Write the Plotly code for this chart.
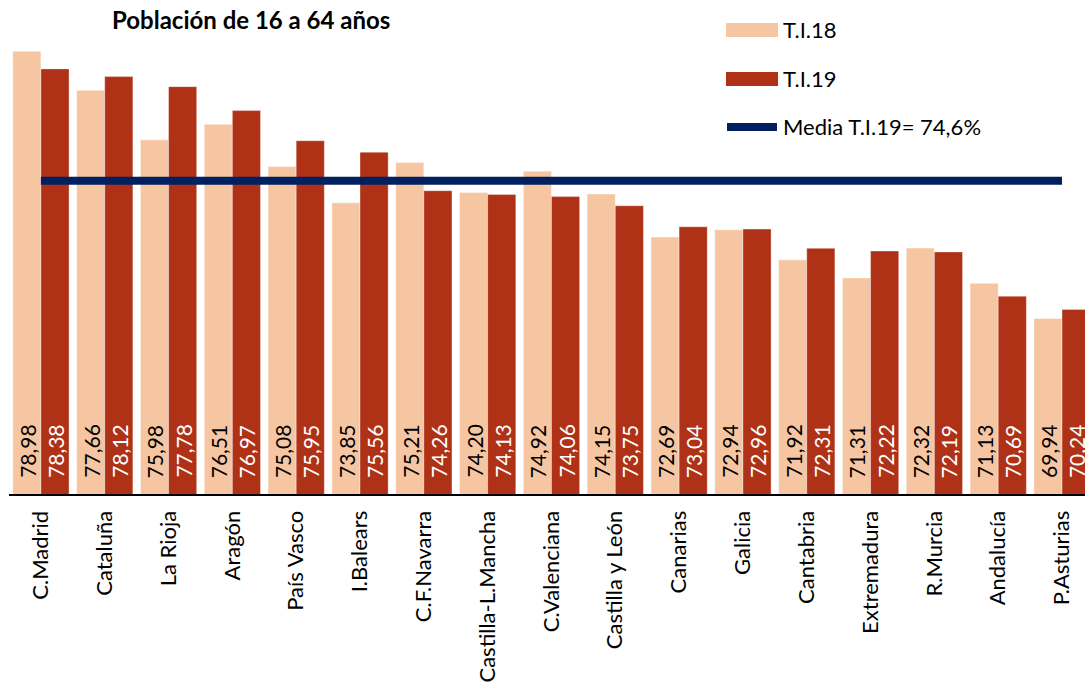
import plotly.graph_objects as go

categories = ["C.Madrid", "Cataluña", "La Rioja", "Aragón", "País Vasco", "I.Balears",
              "C.F.Navarra", "Castilla-L.Mancha", "C.Valenciana", "Castilla y León",
              "Canarias", "Galicia", "Cantabria", "Extremadura", "R.Murcia",
              "Andalucía", "P.Asturias"]
ti18 = [78.98, 77.66, 75.98, 76.51, 75.08, 73.85, 75.21, 74.20, 74.92, 74.15,
        72.69, 72.94, 71.92, 71.31, 72.32, 71.13, 69.94]
ti19 = [78.38, 78.12, 77.78, 76.97, 75.95, 75.56, 74.26, 74.13, 74.06, 73.75,
        73.04, 72.96, 72.31, 72.22, 72.19, 70.69, 70.24]
media = 74.6

LIGHT = "#F6C6A2"
DARK = "#B03216"
NAVY = "#002060"
FONT = "Lato"
FS = 22
VFS = 21
Y_MIN, Y_MAX = 64, 80

W, H = 1085, 688
L, R, T, B = 9, 0, 21, 194
PW, PH = W - L - R, H - T - B
BARGAP = 0.118
X_RANGE = [-0.5, 16.36]
CAT_PX = PW / (X_RANGE[1] - X_RANGE[0])
HALF_BAR = CAT_PX * (1 - BARGAP) / 4


def px(x):
    return (x - L) / PW


def py(y):
    return (H - B - y) / PH


def fmt(v):
    return f"{v:.2f}".replace(".", ",")


fig = go.Figure()
fig.add_trace(go.Bar(
    x=categories, y=ti18, name="T.I.18", marker_color=LIGHT,
    marker_line=dict(color="rgba(255,255,255,0.45)", width=1), hoverinfo="skip"))
fig.add_trace(go.Bar(
    x=categories, y=ti19, name="T.I.19", marker_color=DARK,
    marker_line=dict(color="rgba(255,255,255,0.35)", width=1), hoverinfo="skip"))
fig.add_trace(go.Scatter(
    x=categories, y=[media] * len(categories), mode="lines",
    name="Media T.I.19= 74,6%", line=dict(color=NAVY, width=8), hoverinfo="skip"))

annotations = []
for series, shift, col in ((ti18, -HALF_BAR, "black"), (ti19, HALF_BAR, "white")):
    for c, v in zip(categories, series):
        annotations.append(dict(
            x=c, y=Y_MIN, xref="x", yref="y", text=fmt(v), textangle=-90,
            xanchor="center", yanchor="bottom", xshift=shift, yshift=14,
            showarrow=False, font=dict(size=VFS, family=FONT, color=col)))

shapes = [
    dict(type="rect", xref="paper", yref="paper", x0=px(726), x1=px(778),
         y0=py(37), y1=py(23), fillcolor=LIGHT, line_width=0),
    dict(type="rect", xref="paper", yref="paper", x0=px(726), x1=px(778),
         y0=py(86), y1=py(72), fillcolor=DARK, line_width=0),
    dict(type="line", xref="paper", yref="paper", x0=px(727), x1=px(777),
         y0=py(127), y1=py(127), line=dict(color=NAVY, width=8)),
]
annotations += [
    dict(text="<b>Población de 16 a 64 años</b>", xref="paper", yref="paper",
         x=px(251), y=py(20), xanchor="center", yanchor="middle", showarrow=False,
         font=dict(size=24, family=FONT, color="black")),
    dict(text="T.I.18", xref="paper", yref="paper", x=px(781), y=py(30),
         xanchor="left", yanchor="middle", showarrow=False,
         font=dict(size=FS, family=FONT, color="black")),
    dict(text="T.I.19", xref="paper", yref="paper", x=px(781), y=py(79),
         xanchor="left", yanchor="middle", showarrow=False,
         font=dict(size=FS, family=FONT, color="black")),
    dict(text="Media T.I.19= 74,6%", xref="paper", yref="paper", x=px(781), y=py(127),
         xanchor="left", yanchor="middle", showarrow=False,
         font=dict(size=FS, family=FONT, color="black")),
]

fig.update_layout(
    width=W, height=H, margin=dict(l=L, r=R, t=T, b=B, autoexpand=False),
    paper_bgcolor="white", plot_bgcolor="white",
    barmode="group", bargap=BARGAP, bargroupgap=0,
    showlegend=False, shapes=shapes, annotations=annotations,
    font=dict(family=FONT, size=FS, color="black"),
)
fig.update_xaxes(range=X_RANGE, tickangle=-90, showline=True, linecolor="black",
                 linewidth=2, showgrid=False, ticks="", ticklabelstandoff=6,
                 automargin=False,
                 tickfont=dict(size=FS, family=FONT, color="black"), fixedrange=True)
fig.update_yaxes(range=[Y_MIN, Y_MAX], visible=False, showgrid=False, fixedrange=True)

fig.write_html("out.html", config={"displayModeBar": False},
               post_script="document.body.style.margin='0';document.body.style.overflow='hidden';")
